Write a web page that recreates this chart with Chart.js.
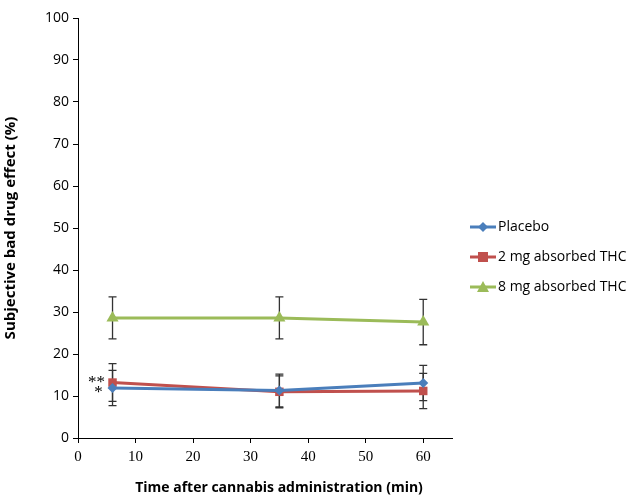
<!DOCTYPE html>
<html>
<head>
<meta charset="utf-8">
<script src="https://cdn.jsdelivr.net/npm/chart.js@4.4.1/dist/chart.umd.min.js"></script>
<style>
  html, body { margin: 0; padding: 0; background: #fff; }
  #wrap { width: 633px; height: 496px; }
</style>
</head>
<body>
<div id="wrap"><canvas id="chart" width="633" height="496"></canvas></div>
<script>
// Data
const times = [6, 35, 60];
const placebo = [11.9, 11.3, 13.1];
const placeboErr = [4.2, 3.9, 4.2];
const thc2 = [13.2, 11.0, 11.2];
const thc2Err = [4.5, 3.8, 4.2];
const thc8 = [28.6, 28.6, 27.6];
const thc8Err = [5.0, 5.0, 5.4];
const seriesNames = ['Placebo', '2 mg absorbed THC', '8 mg absorbed THC'];
const yTicks = [0, 10, 20, 30, 40, 50, 60, 70, 80, 90, 100];
const xTicks = [0, 10, 20, 30, 40, 50, 60];
const xTitle = 'Time after cannabis administration (min)';

const colors = ['#4A7EBB', '#C0504D', '#9BBB59'];
const errors = [placeboErr, thc2Err, thc8Err];

function points(vals) {
    return times.map((t, i) => ({ x: t, y: vals[i] }));
}

// Error bars under the markers
const errorBars = {
    id: 'errorBars',
    beforeDatasetsDraw(chart) {
        const ctx = chart.ctx;
        const xs = chart.scales.x, ys = chart.scales.y;
        ctx.save();
        ctx.strokeStyle = '#333';
        ctx.lineWidth = 1.3;
        chart.data.datasets.forEach((ds, d) => {
            ds.data.forEach((p, i) => {
                const px = xs.getPixelForValue(p.x);
                const top = ys.getPixelForValue(p.y + errors[d][i]);
                const bot = ys.getPixelForValue(p.y - errors[d][i]);
                ctx.beginPath();
                ctx.moveTo(px, top); ctx.lineTo(px, bot);
                ctx.moveTo(px - 4, top); ctx.lineTo(px + 4, top);
                ctx.moveTo(px - 4, bot); ctx.lineTo(px + 4, bot);
                ctx.stroke();
            });
        });
        ctx.restore();
    }
};

function drawMarker(ctx, style, x, y, color) {
    ctx.fillStyle = color;
    ctx.beginPath();
    if (style === 'rect') {
        ctx.rect(x - 5, y - 5, 10, 10);
    } else if (style === 'triangle') {
        ctx.moveTo(x, y - 6); ctx.lineTo(x + 6, y + 5); ctx.lineTo(x - 6, y + 5); ctx.closePath();
    } else {
        ctx.moveTo(x, y - 5); ctx.lineTo(x + 5, y); ctx.lineTo(x, y + 5); ctx.lineTo(x - 5, y); ctx.closePath();
    }
    ctx.fill();
}

// Legend with line + marker, x-axis title, and the significance asterisks
const extras = {
    id: 'extras',
    afterDraw(chart) {
        const ctx = chart.ctx;
        const area = chart.chartArea;
        ctx.save();
        const lx = area.right + 18;
        chart.data.datasets.forEach((ds, d) => {
            const y = 227 + d * 30;
            ctx.strokeStyle = ds.borderColor;
            ctx.lineWidth = 3;
            ctx.beginPath();
            ctx.moveTo(lx, y); ctx.lineTo(lx + 26, y);
            ctx.stroke();
            drawMarker(ctx, ds.pointStyle, lx + 13, y, ds.borderColor);
            ctx.fillStyle = '#000';
            ctx.font = '14px "Open Sans"';
            ctx.textBaseline = 'middle';
            ctx.textAlign = 'left';
            ctx.fillText(ds.label, lx + 28, y);
        });

        ctx.fillStyle = '#000';
        ctx.font = 'bold 14px "Open Sans"';
        ctx.textAlign = 'center';
        ctx.textBaseline = 'middle';
        ctx.fillText(xTitle, area.left + 201, 488);

        const xs = chart.scales.x, ys = chart.scales.y;
        const px = xs.getPixelForValue(times[0]);
        const py = ys.getPixelForValue(thc2[0]);
        ctx.font = '17px "Liberation Serif"';
        ctx.fillText('**', px - 16, py);
        ctx.fillText('*', px - 14, py + 10);
        ctx.restore();
    }
};

new Chart(document.getElementById('chart'), {
    type: 'line',
    data: {
        datasets: [
            { label: seriesNames[0], data: points(placebo), borderColor: colors[0], backgroundColor: colors[0], pointStyle: 'rectRot', pointRadius: 5 },
            { label: seriesNames[1], data: points(thc2), borderColor: colors[1], backgroundColor: colors[1], pointStyle: 'rect', pointRadius: 6 },
            { label: seriesNames[2], data: points(thc8), borderColor: colors[2], backgroundColor: colors[2], pointStyle: 'triangle', pointRadius: 7 }
        ]
    },
    options: {
        responsive: false,
        animation: false,
        layout: { padding: { top: 18, right: 181, left: 0, bottom: 0 } },
        elements: {
            line: { borderWidth: 3, tension: 0 },
            point: { borderWidth: 0, hoverRadius: 6 }
        },
        plugins: {
            legend: { display: false },
            tooltip: { enabled: false }
        },
        scales: {
            x: {
                type: 'linear',
                min: 0,
                max: 65,
                afterBuildTicks: s => { s.ticks = xTicks.map(v => ({ value: v })); },
                afterFit: s => { s.height = 58; },
                grid: { drawOnChartArea: false, color: '#000', tickLength: 5 },
                border: { color: '#000', width: 1 },
                ticks: { color: '#000', font: { family: '"Liberation Serif"', size: 15 }, padding: 5 }
            },
            y: {
                min: 0,
                max: 100,
                afterBuildTicks: s => { s.ticks = yTicks.map(v => ({ value: v })); },
                afterFit: s => { s.width = 78; },
                grid: { drawOnChartArea: false, color: '#000', tickLength: 5 },
                border: { color: '#000', width: 1 },
                ticks: { color: '#000', font: { family: '"Open Sans"', size: 14 }, padding: 4 },
                title: {
                    display: true,
                    text: 'Subjective bad drug effect (%)',
                    color: '#000',
                    font: { family: '"Open Sans"', size: 15, weight: 'bold' },
                    padding: { top: 2, bottom: 6 }
                }
            }
        }
    },
    plugins: [errorBars, extras]
});
</script>
</body>
</html>
